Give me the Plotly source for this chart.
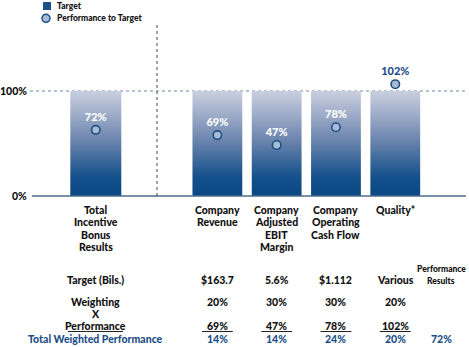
import plotly.graph_objects as go

# ---------------- data ----------------
categories = [["Total", "Incentive", "Bonus", "Results"],
              ["Company", "Revenue"],
              ["Company", "Adjusted", "EBIT", "Margin"],
              ["Company", "Operating", "Cash Flow"],
              ["Quality*"]]
cat_pos = [0.0, 2.05, 3.05, 4.05, 5.05]
target_pct = [100, 100, 100, 100, 100]
perf_labels = ["72%", "69%", "47%", "78%", "102%"]
perf_marker = [63, 58, 48.5, 65.5, 106.5]

row_target = ["$163.7", "5.6%", "$1.112", "Various"]
row_weight = ["20%", "30%", "30%", "20%"]
row_perf = ["69%", "47%", "78%", "102%"]
row_weighted = ["14%", "14%", "24%", "20%"]
total_result = "72%"

# ---------------- layout helpers ----------------
W, H = 469, 347
ML, MR = 32, 3
PX0, SLOT = 95.8, 59.3          # pixel of x=0, pixels per x unit
Y0PX, PXPER = 196.0, 1.05       # pixel of 0%, pixels per 1%
xr = [(ML - PX0) / SLOT, (W - MR - PX0) / SLOT]
yr = [(Y0PX - H) / PXPER, Y0PX / PXPER]

def ypx(p):
    return (Y0PX - p) / PXPER

def xpx(p):
    return (p - PX0) / SLOT

def xpaper(p):
    return (p - ML) / (W - ML - MR)

def ypaper(p):
    return (H - p) / H

NAVY = "#1d4f87"
FONT = "Lato"
WT = 900
BW = 0.42

fig = go.Figure()

# target bars with vertical gradient
for i, (x, t) in enumerate(zip(cat_pos, target_pct)):
    hw = 0.43 if i == 0 else BW
    fig.add_trace(go.Scatter(
        x=[x - hw, x + hw, x + hw, x - hw, x - hw],
        y=[0, 0, t, t, 0],
        mode="lines", fill="toself", line=dict(width=0),
        fillgradient=dict(type="vertical",
                          colorscale=[[0, "#0a4884"], [0.18, "#14508b"],
                                      [0.5, "#6480aa"], [0.8, "#a3b0cb"],
                                      [1, "#c9cfe0"]]),
        showlegend=False, hoverinfo="skip"))

# performance markers
fig.add_trace(go.Scatter(
    x=cat_pos, y=perf_marker, mode="markers+text",
    text=perf_labels, textposition="top center",
    textfont=dict(family=FONT, size=11, weight=WT,
                  color=["white", "white", "white", "white", NAVY]),
    marker=dict(size=8.5, color="#a9bad3", line=dict(color=NAVY, width=1.6)),
    showlegend=False, hoverinfo="skip"))

shapes = []
# 100% dotted line
shapes.append(dict(type="line", xref="paper", yref="y", x0=xpaper(30), x1=1.0,
                   y0=100, y1=100, line=dict(color="#6e87a6", width=1, dash="dot"),
                   layer="below"))
# 0% baseline
shapes.append(dict(type="line", xref="paper", yref="y", x0=0, x1=1.0,
                   y0=0, y1=0, line=dict(color="#4f6d8e", width=1.5)))
# vertical divider
shapes.append(dict(type="line", xref="x", yref="y", x0=xpx(157), x1=xpx(157),
                   y0=0, y1=ypx(25), line=dict(color="#444444", width=1, dash="dot")))
# underlines
for x in cat_pos[1:]:
    shapes.append(dict(type="line", xref="x", yref="y", x0=x - 0.26, x1=x + 0.26,
                       y0=ypx(331.5), y1=ypx(331.5), line=dict(color="#222", width=1)))
shapes.append(dict(type="line", xref="x", yref="y", x0=xpx(68), x1=xpx(123),
                   y0=ypx(331.5), y1=ypx(331.5), line=dict(color="#222", width=1)))
# legend icons
shapes.append(dict(type="rect", xref="paper", yref="paper",
                   x0=xpaper(43), x1=xpaper(51), y0=ypaper(10), y1=ypaper(2),
                   fillcolor=NAVY, line=dict(width=0)))
shapes.append(dict(type="circle", xref="paper", yref="paper",
                   x0=xpaper(42), x1=xpaper(50), y0=ypaper(22.3), y1=ypaper(14.3),
                   fillcolor="#a9bad3", line=dict(color=NAVY, width=1.5)))

ann = []

def txt(x, y, s, size=10, color="#111", xref="x", yref="y", xanchor="center"):
    ann.append(dict(x=x, y=y, xref=xref, yref=yref, text=s,
                    showarrow=False, xanchor=xanchor, yanchor="middle",
                    font=dict(family=FONT, size=size, color=color, weight=WT)))

# legend text
txt(xpaper(55), ypaper(6), "Target", 8.5, "#111", "paper", "paper", "left")
txt(xpaper(55), ypaper(18.3), "Performance to Target", 8.5, "#111", "paper", "paper", "left")

# y tick labels
txt(xpaper(29), 100, "100%", 10.5, "#111", "paper", "y", "right")
txt(xpaper(29), 0, "0%", 10.5, "#111", "paper", "y", "right")

# category labels
for x, lines in zip(cat_pos, categories):
    for k, ln in enumerate(lines):
        txt(x, ypx(210 + 12.4 * k), ln, 10.5)

# table
c0 = cat_pos[0]
res_x = xpx(441)
txt(c0, ypx(280), "Target (Bils.)", 10.5)
txt(c0, ypx(302), "Weighting", 10.5)
txt(c0, ypx(314), "X", 10.5)
txt(c0, ypx(326), "Performance", 10.5)
txt(c0, ypx(339), "Total Weighted Performance", 10.5, NAVY)
txt(res_x, ypx(269), "Performance", 8.5)
txt(res_x, ypx(281), "Results", 8.5)
for x, a, b, c, d in zip(cat_pos[1:], row_target, row_weight, row_perf, row_weighted):
    txt(x, ypx(280), a, 10.5)
    txt(x, ypx(302), b, 10.5)
    txt(x, ypx(326), c, 10.5)
    txt(x, ypx(339), d, 10.5, NAVY)
txt(res_x, ypx(339), total_result, 10.5, NAVY)

fig.update_layout(
    width=W, height=H, margin=dict(l=ML, r=MR, t=0, b=0),
    paper_bgcolor="white", plot_bgcolor="white",
    xaxis=dict(range=xr, visible=False, fixedrange=True),
    yaxis=dict(range=yr, visible=False, fixedrange=True),
    shapes=shapes, annotations=ann, showlegend=False,
)

fig.write_html("out.html")
